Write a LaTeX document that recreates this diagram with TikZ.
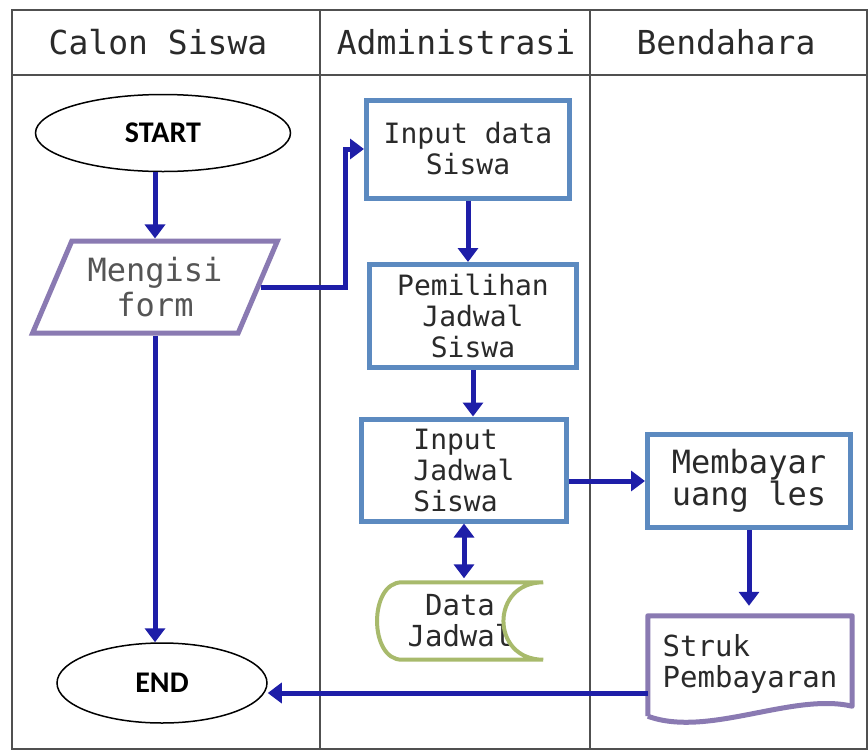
\documentclass[tikz,border=0pt]{standalone}
\usepackage{fontspec}
\setmainfont{Carlito}
\setmonofont{DejaVu Sans Mono}
\usepackage{xcolor}
\usetikzlibrary{arrows.meta,shapes.geometric}
\definecolor{flowblue}{HTML}{1E1EA8}
\definecolor{boxblue}{HTML}{5C8AC0}
\definecolor{iopurple}{HTML}{8A7AB2}
\definecolor{storegreen}{HTML}{A8BA6C}
\definecolor{lanegray}{HTML}{505050}
\definecolor{txtgray}{HTML}{2A2A2A}

\begin{document}
\begin{tikzpicture}[x=1pt,y=-1pt,
		lane/.style={draw=lanegray,line width=2.5pt},
		head/.style={font=\ttfamily\fontsize{33}{36}\selectfont,text=txtgray},
		term/.style={draw,ellipse,line width=1.5pt,inner sep=0pt,font=\bfseries\fontsize{30}{32}\selectfont},
		proc/.style={draw=boxblue,line width=5pt,inner sep=0pt,align=center,text=txtgray,font=\ttfamily\fontsize{28}{31}\selectfont},
		inout/.style={draw=iopurple,line width=5pt,trapezium,trapezium left angle=62,trapezium right angle=118,trapezium stretches=true,inner sep=0pt,align=center,text=txtgray!80,font=\ttfamily\fontsize{32}{35}\selectfont},
		plain/.style={inner sep=0pt,align=center,text=txtgray,font=\ttfamily\fontsize{29}{31}\selectfont},
		flow/.style={draw=flowblue,line width=5pt,-{Triangle[width=20pt,length=14pt]}},
		dflow/.style={draw=flowblue,line width=5pt,{Triangle[width=20pt,length=14pt]}-{Triangle[width=20pt,length=14pt]}}]
		\useasboundingbox (0,0) rectangle (868,753);
		\fill[white] (0,0) rectangle (868,753);
		\draw[lane] (12,10) rectangle (867,749);
		\draw[lane] (12,75) -- (867,75);
		\draw[lane] (320,10) -- (320,749);
		\draw[lane] (590,10) -- (590,749);
		\node[head] (hcalon) at (158,42) {Calon Siswa};
		\node[head] (hadmin) at (456,42) {Administrasi};
		\node[head] (hbend) at (726,42) {Bendahara};

		\node[term,minimum width=255,minimum height=77] (start) at (163,133) {START};
		\node[inout,minimum width=245,minimum height=92] (form) at (155,287) {Mengisi\\form};
		\node[proc,minimum width=203,minimum height=98] (inputdata) at (468,149) {Input data\\Siswa};
		\node[proc,minimum width=207,minimum height=103] (pilih) at (473,316) {Pemilihan\\Jadwal\\Siswa};
		\node[proc,minimum width=205,minimum height=102,align=left] (inputjadwal) at (464,470) {Input\\Jadwal\\Siswa};
		\node[plain,minimum width=166,minimum height=77] (datajadwal) at (460,621) {Data\\Jadwal};
		\node[proc,minimum width=203,minimum height=93,font=\ttfamily\fontsize{32}{31}\selectfont] (bayar) at (749,481) {Membayar\\uang les};
		\node[plain,minimum width=204,minimum height=96,align=left] (struk) at (750,664) {Struk\\Pembayaran};
		\node[term,minimum width=210,minimum height=80] (endnode) at (162,683) {END};

		\draw[storegreen,line width=4pt] ([xshift=25]datajadwal.north west) -- (datajadwal.north east)
			.. controls ([xshift=-53]datajadwal.north east) and ([xshift=-53]datajadwal.south east) .. (datajadwal.south east)
			-- ([xshift=25]datajadwal.south west)
			.. controls ([xshift=-8]datajadwal.south west) and ([xshift=-8]datajadwal.north west) .. cycle;
		\draw[iopurple,line width=5pt,line join=round] ([yshift=-4]struk.south west) -- (struk.north west) -- (struk.north east) -- ([yshift=6]struk.south east)
			.. controls ([xshift=-60,yshift=20]struk.south east) and ([xshift=60,yshift=-26]struk.south west) .. ([yshift=-4]struk.south west);

		\draw[flow] (start.south -| form.north) -- (form.north);
		\draw[flow] (form.south) -- (form.south |- endnode.north);
		\draw[flow] (form.east) -- ++(85,0) |- (inputdata.west);
		\draw[flow] (inputdata.south) -- (inputdata.south |- pilih.north);
		\draw[flow] (pilih.south) -- (pilih.south |- inputjadwal.north);
		\draw[dflow] (inputjadwal.south) -- ([yshift=4]inputjadwal.south |- datajadwal.north);
		\draw[flow] (inputjadwal.east |- bayar.west) -- (bayar.west);
		\draw[flow,shorten >=10pt] (bayar.south) -- (bayar.south |- struk.north);
		\draw[flow] ([yshift=-29]struk.west) -- ([yshift=-29]struk.west -| endnode.east);
	\end{tikzpicture}
\end{document}
